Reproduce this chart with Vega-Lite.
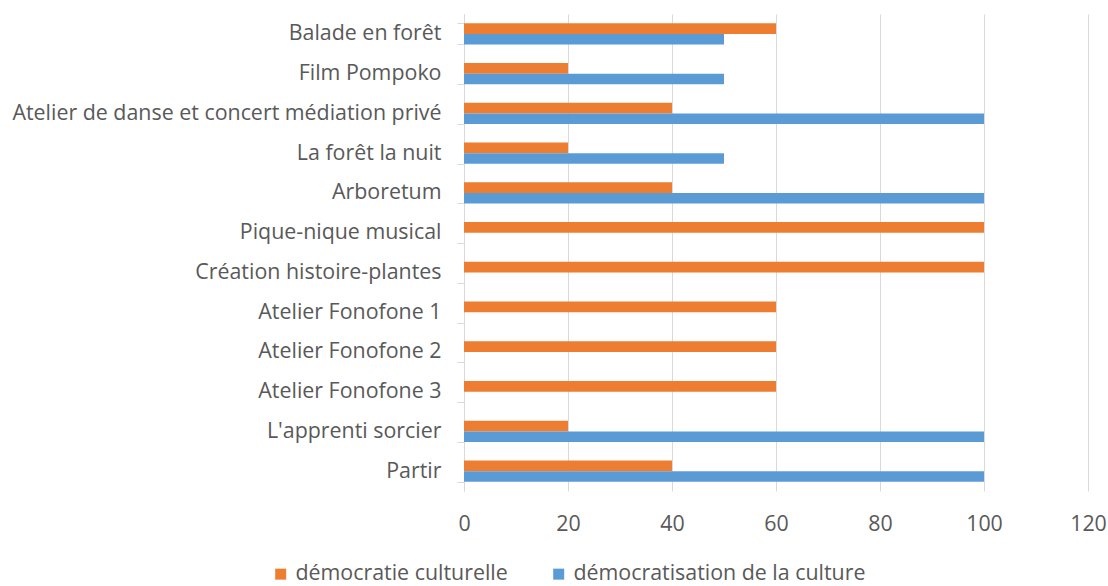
{
  "$schema": "https://vega.github.io/schema/vega-lite/v6.json",
  "width": 624,
  "height": 477,
  "autosize": "none",
  "padding": {"left": 464, "top": 14, "right": 20, "bottom": 95},
  "background": "white",
  "config": {
    "view": {"stroke": null},
    "font": "Open Sans"
  },
  "data": {
    "values": [
      {"activite": "Balade en forêt", "serie": "démocratie culturelle", "valeur": 60},
      {"activite": "Balade en forêt", "serie": "démocratisation de la culture", "valeur": 50},
      {"activite": "Film Pompoko", "serie": "démocratie culturelle", "valeur": 20},
      {"activite": "Film Pompoko", "serie": "démocratisation de la culture", "valeur": 50},
      {"activite": "Atelier de danse et concert médiation privé", "serie": "démocratie culturelle", "valeur": 40},
      {"activite": "Atelier de danse et concert médiation privé", "serie": "démocratisation de la culture", "valeur": 100},
      {"activite": "La forêt la nuit", "serie": "démocratie culturelle", "valeur": 20},
      {"activite": "La forêt la nuit", "serie": "démocratisation de la culture", "valeur": 50},
      {"activite": "Arboretum", "serie": "démocratie culturelle", "valeur": 40},
      {"activite": "Arboretum", "serie": "démocratisation de la culture", "valeur": 100},
      {"activite": "Pique-nique musical", "serie": "démocratie culturelle", "valeur": 100},
      {"activite": "Création histoire-plantes", "serie": "démocratie culturelle", "valeur": 100},
      {"activite": "Atelier Fonofone 1", "serie": "démocratie culturelle", "valeur": 60},
      {"activite": "Atelier Fonofone 2", "serie": "démocratie culturelle", "valeur": 60},
      {"activite": "Atelier Fonofone 3", "serie": "démocratie culturelle", "valeur": 60},
      {"activite": "L'apprenti sorcier", "serie": "démocratie culturelle", "valeur": 20},
      {"activite": "L'apprenti sorcier", "serie": "démocratisation de la culture", "valeur": 100},
      {"activite": "Partir", "serie": "démocratie culturelle", "valeur": 40},
      {"activite": "Partir", "serie": "démocratisation de la culture", "valeur": 100}
    ]
  },
  "mark": {"type": "bar"},
  "encoding": {
    "y": {
      "field": "activite",
      "type": "nominal",
      "sort": ["Balade en forêt", "Film Pompoko", "Atelier de danse et concert médiation privé", "La forêt la nuit", "Arboretum", "Pique-nique musical", "Création histoire-plantes", "Atelier Fonofone 1", "Atelier Fonofone 2", "Atelier Fonofone 3", "L'apprenti sorcier", "Partir"],
      "scale": {"paddingInner": 0.47, "paddingOuter": 0.235},
      "axis": {
        "title": null,
        "grid": false,
        "tickBand": "extent",
        "tickSize": 7,
        "tickColor": "#D9D9D9",
        "domainColor": "#D9D9D9",
        "labelFontSize": 21.4,
        "labelColor": "#595959",
        "labelPadding": 16,
        "labelLimit": 600
      }
    },
    "x": {
      "field": "valeur",
      "type": "quantitative",
      "scale": {"domain": [0, 120], "nice": false},
      "axis": {
        "title": null,
        "values": [0, 20, 40, 60, 80, 100, 120],
        "grid": true,
        "gridColor": "#D9D9D9",
        "domain": false,
        "ticks": false,
        "labelFontSize": 21.4,
        "labelColor": "#595959",
        "labelPadding": 22,
        "labelFlush": false
      }
    },
    "yOffset": {
      "field": "serie",
      "type": "nominal",
      "scale": {"domain": ["démocratie culturelle", "démocratisation de la culture"]}
    },
    "color": {
      "field": "serie",
      "type": "nominal",
      "scale": {
        "domain": ["démocratie culturelle", "démocratisation de la culture"],
        "range": ["#ED7D31", "#5B9BD5"]
      },
      "legend": {
        "title": null,
        "orient": "none",
        "direction": "horizontal",
        "legendX": -194,
        "legendY": 549,
        "symbolType": "square",
        "symbolSize": 121,
        "symbolStrokeWidth": 0,
        "labelFontSize": 21.4,
        "labelColor": "#595959",
        "labelOffset": 4,
        "columnPadding": 40,
        "labelLimit": 600
      }
    }
  }
}
